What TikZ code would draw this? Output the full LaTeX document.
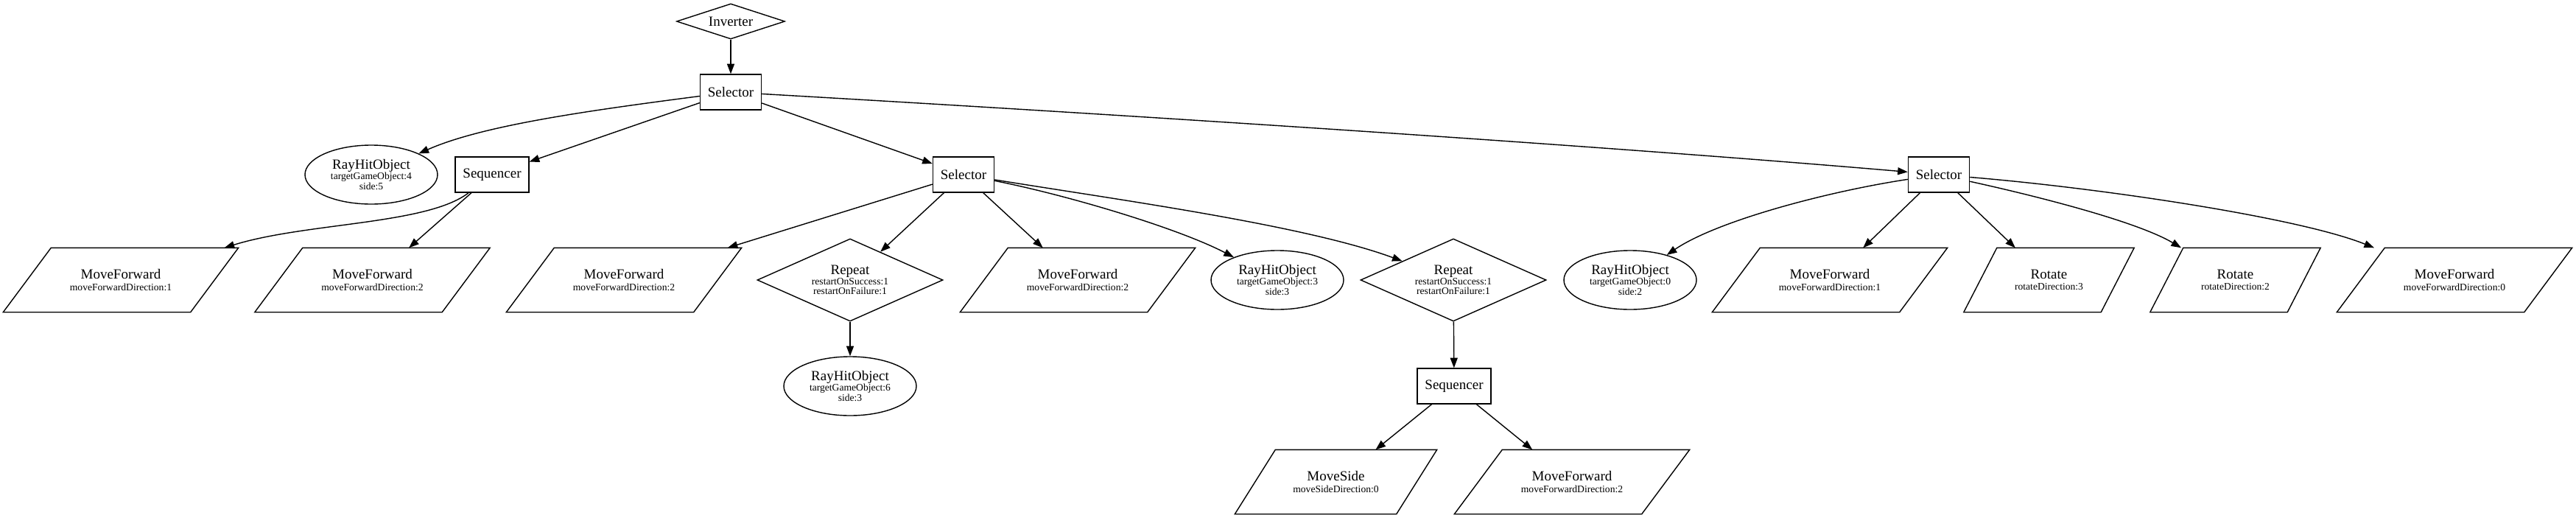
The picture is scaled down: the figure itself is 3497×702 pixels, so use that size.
\documentclass[tikz,border=0pt]{standalone}
\usepackage{fontspec}
\setmainfont{Liberation Serif}
\usetikzlibrary{shapes.geometric,arrows.meta}
\newcommand\mainf{\fontsize{9.5}{9.5}\selectfont}
\newcommand\subf{\fontsize{6.8}{6.8}\selectfont}
\newcommand\paraoutline[2]{\draw[line width=0.7pt] (#1.south west) -- ([xshift=-#2]#1.south east) -- (#1.north east) -- ([xshift=#2]#1.north west) -- cycle;}
\begin{document}
\begin{tikzpicture}[x=0.5pt,y=-0.5pt,
  base/.style={draw, line width=0.7pt, inner sep=0pt, align=center, font=\subf},
  boxn/.style={base, rectangle, font=\mainf, inner xsep=5.2pt, minimum width=41.5pt, minimum height=24pt},
  invn/.style={base, diamond, aspect=3, font=\mainf, minimum width=73.5pt, minimum height=24pt},
  dia/.style={base, diamond, aspect=2.25, minimum width=126pt, minimum height=56pt},
  ell/.style={base, ellipse, minimum width=90pt, minimum height=40pt},
  para/.style={base, draw=none, rectangle, minimum width=159pt, minimum height=43pt},
  rot/.style={para, minimum width=115pt},
  mside/.style={para, minimum width=136.5pt},
  edge/.style={line width=0.7pt, -{Triangle[length=6.8pt,width=5pt]}}]
\fill[white] (0,0) rectangle (3497,702);
\useasboundingbox (0,0) rectangle (3497,702);
% nodes
\node[invn] (inv) at (992,29) {Inverter};
\node[boxn] (sel1) at (992,125) {Selector};
\node[ell] (rh1) at (504,237) {{\mainf RayHitObject}\\targetGameObject:4\\side:5};
\node[boxn] (seq1) at (668,237) {Sequencer};
\node[boxn] (sel2) at (1308,237) {Selector};
\node[boxn] (sel3) at (2632,237) {Selector};
\node[para] (mf1) at (164,380) {{\mainf MoveForward}\\[1pt]moveForwardDirection:1};
\node[para] (mf2) at (505.5,380) {{\mainf MoveForward}\\[1pt]moveForwardDirection:2};
\node[para] (mf3) at (847,380) {{\mainf MoveForward}\\[1pt]moveForwardDirection:2};
\node[dia] (rep1) at (1154,380) {{\mainf Repeat}\\restartOnSuccess:1\\restartOnFailure:1};
\node[para] (mf4) at (1463,380) {{\mainf MoveForward}\\[1pt]moveForwardDirection:2};
\node[ell] (rh3) at (1734,380) {{\mainf RayHitObject}\\targetGameObject:3\\side:3};
\node[dia] (rep2) at (1973,380) {{\mainf Repeat}\\restartOnSuccess:1\\restartOnFailure:1};
\node[ell] (rh0) at (2213,380) {{\mainf RayHitObject}\\targetGameObject:0\\side:2};
\node[para] (mf6) at (2484,380) {{\mainf MoveForward}\\[1pt]moveForwardDirection:1};
\node[rot] (rot3) at (2781.5,380) {{\mainf Rotate}\\[1pt]rotateDirection:3};
\node[rot] (rot2) at (3034.5,380) {{\mainf Rotate}\\[1pt]rotateDirection:2};
\node[para] (mf7) at (3332,380) {{\mainf MoveForward}\\[1pt]moveForwardDirection:0};
\node[ell] (rh6) at (1154,524) {{\mainf RayHitObject}\\targetGameObject:6\\side:3};
\node[boxn] (seq2) at (1974,524) {Sequencer};
\node[mside] (ms) at (1813.5,654) {{\mainf MoveSide}\\[1pt]moveSideDirection:0};
\node[para] (mf5) at (2134,654) {{\mainf MoveForward}\\[1pt]moveForwardDirection:2};
% parallelogram outlines
\paraoutline{mf1}{32.5pt}
\paraoutline{mf2}{32.5pt}
\paraoutline{mf3}{32.5pt}
\paraoutline{mf4}{32.5pt}
\paraoutline{mf5}{32.5pt}
\paraoutline{mf6}{32.5pt}
\paraoutline{mf7}{32.5pt}
\paraoutline{rot3}{22.5pt}
\paraoutline{rot2}{22.5pt}
\paraoutline{ms}{27.5pt}
% edges
\draw[edge] (inv) -- (sel1);
\draw[edge] (sel1) .. controls (800,150) and (655,170) .. (rh1);
\draw[edge] (sel1) -- (seq1);
\draw[edge] (sel1) -- (sel2);
\draw[edge] (sel1) .. controls (1600,160) and (2200,200) .. (sel3);
\draw[edge] (seq1) .. controls (580,305) and (415,302) .. (mf1);
\draw[edge] (seq1) -- (mf2);
\draw[edge] (sel2) -- (mf3);
\draw[edge] (sel2) -- (rep1);
\draw[edge] (sel2) -- (mf4);
\draw[edge] (sel2) .. controls (1450,265) and (1600,310) .. (rh3);
\draw[edge] (sel2) .. controls (1510,270) and (1770,305) .. (rep2);
\draw[edge] (rep1) -- (rh6);
\draw[edge] (rep2) -- (seq2);
\draw[edge] (seq2) -- (ms);
\draw[edge] (seq2) -- (mf5);
\draw[edge] (sel3) .. controls (2480,260) and (2330,300) .. (rh0);
\draw[edge] (sel3) -- (mf6);
\draw[edge] (sel3) -- (rot3);
\draw[edge] (sel3) .. controls (2760,265) and (2900,300) .. (rot2);
\draw[edge] (sel3) .. controls (2850,255) and (3120,295) .. (mf7);
\end{tikzpicture}
\end{document}
